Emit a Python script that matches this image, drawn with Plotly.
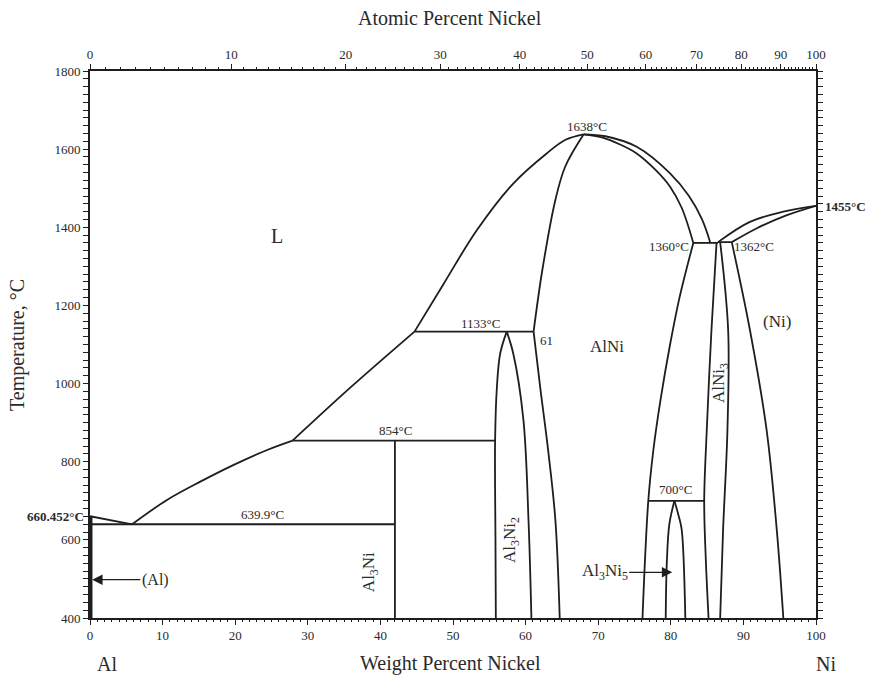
import plotly.graph_objects as go

# ---------------- data (wt% Ni, temperature °C) ----------------
liq_al_wt = [0, 5.8]
liq_al_T = [660.452, 639.9]

liq_hypo_wt = [5.8, 10.6, 15.2, 19.8, 24.4, 27.9]
liq_hypo_T = [639.9, 702, 749, 792, 830, 854]

liq_mid_wt = [27.9, 36, 44.7]
liq_mid_T = [854, 992, 1133]

liq_alni_left_wt = [44.7, 48.7, 53.3, 58.3, 62.9, 65.5, 68.0]
liq_alni_left_T = [1133, 1255, 1393, 1512, 1589, 1624, 1638]

alni_left_high_wt = [61.1, 62.3, 64.1, 65.45, 68.0]
alni_left_high_T = [1133, 1290, 1470, 1555, 1638]

alni_left_low_wt = [61.1, 62.0, 63.15, 64.1, 64.7]
alni_left_low_T = [1133, 992, 822, 651, 400]

al3ni2_left_wt = [57.4, 56.5, 56.05, 55.8, 55.85, 55.9]
al3ni2_left_T = [1133, 1077, 992, 854, 600, 400]

al3ni2_right_wt = [57.4, 58.3, 59.7, 60.4, 60.8]
al3ni2_right_T = [1133, 1077, 907, 651, 400]

al3ni_wt = [42.0, 42.0]
al3ni_T = [400, 854]

al_solvus_wt = [0.12, 0.12]
al_solvus_T = [400, 660.452]

alni_sol_right_wt = [68.0, 70.5, 73, 75.3, 78, 79.9, 81.5, 83.1]
alni_sol_right_T = [1638, 1630, 1612, 1589, 1545, 1504, 1450, 1360]

liq_alni_right_wt = [68.0, 71, 75.3, 79.9, 82.5, 84.3, 85.45]
liq_alni_right_T = [1638, 1633, 1606, 1538, 1480, 1420, 1360]

liq_ni_wt = [86.5, 90.9, 95.5, 100]
liq_ni_T = [1362, 1414, 1440, 1455]

sol_ni_wt = [88.4, 91.8, 96.0, 100]
sol_ni_T = [1362, 1397, 1431, 1455]

alni_right_wt = [83.1, 81.2, 79.9, 78.6, 77.6, 76.9, 76.1]
alni_right_T = [1360, 1220, 1100, 960, 830, 700, 400]

alni3_left_wt = [86.3, 85.6, 84.95, 84.6, 84.8, 85.2]
alni3_left_T = [1360, 1137, 880, 700, 560, 400]

alni3_right_wt = [86.8, 87.9, 87.8, 87.2, 86.8]
alni3_right_T = [1362, 1137, 881, 625, 400]

ni_solvus_wt = [88.4, 90.9, 93.2, 94.6, 95.5]
ni_solvus_T = [1362, 1137, 881, 625, 400]

al3ni5_left_wt = [80.5, 79.8, 79.45, 79.3]
al3ni5_left_T = [700, 640, 541, 400]

al3ni5_right_wt = [80.5, 81.1, 81.5, 82.0]
al3ni5_right_T = [700, 660, 626, 400]

# invariant (horizontal) lines: (wt_start, wt_end, T)
iso_eut640 = (0, 42.0, 639.9)
iso_per854 = (27.9, 55.8, 854)
iso_per1133 = (44.7, 61.1, 1133)
iso_eut1360 = (83.1, 86.5, 1360)
iso_per1362 = (86.5, 88.4, 1362)
iso_pd700 = (76.9, 84.6, 700)

# axis ticks
wt_ticks = [0, 10, 20, 30, 40, 50, 60, 70, 80, 90, 100]
T_ticks = [400, 600, 800, 1000, 1200, 1400, 1600, 1800]
at_ticks = [0, 10, 20, 30, 40, 50, 60, 70, 80, 90, 100]

M_NI, M_AL = 58.6934, 26.9815
X_RANGE = [0, 100]
Y_RANGE = [400, 1800]


def at2wt(a):
    return 100.0 * a * M_NI / (a * M_NI + (100 - a) * M_AL)


LC = "#1e1e1e"
FONT = "Liberation Serif"
TXT = "#2a2a2a"

fig = go.Figure()


def curve(x, y, smooth=True, width=1.8):
    fig.add_trace(go.Scatter(
        x=x, y=y, mode="lines", hoverinfo="skip", showlegend=False,
        line=dict(color=LC, width=width,
                  shape="spline" if smooth else "linear", smoothing=1.0)))


curve(liq_al_wt, liq_al_T, smooth=False)
curve(liq_hypo_wt, liq_hypo_T)
curve(liq_mid_wt, liq_mid_T)
curve(liq_alni_left_wt, liq_alni_left_T)
curve(alni_left_high_wt, alni_left_high_T)
curve(alni_left_low_wt, alni_left_low_T)
curve(al3ni2_left_wt, al3ni2_left_T)
curve(al3ni2_right_wt, al3ni2_right_T)
curve(al3ni_wt, al3ni_T, smooth=False)
curve(al_solvus_wt, al_solvus_T, smooth=False, width=3.2)
curve(alni_sol_right_wt, alni_sol_right_T)
curve(liq_alni_right_wt, liq_alni_right_T)
curve(liq_ni_wt, liq_ni_T)
curve(sol_ni_wt, sol_ni_T)
curve(alni_right_wt, alni_right_T)
curve(alni3_left_wt, alni3_left_T)
curve(alni3_right_wt, alni3_right_T)
curve(ni_solvus_wt, ni_solvus_T)
curve(al3ni5_left_wt, al3ni5_left_T)
curve(al3ni5_right_wt, al3ni5_right_T)

for (a, b, t) in [iso_eut640, iso_per854, iso_per1133, iso_eut1360, iso_per1362, iso_pd700]:
    curve([a, b], [t, t], smooth=False)

# invisible trace so the top (atomic %) axis renders
fig.add_trace(go.Scatter(x=X_RANGE, y=[400, 400], xaxis="x2", mode="markers",
                         marker=dict(opacity=0), hoverinfo="skip", showlegend=False))


def label(x, y, text, size=13, xanchor="center", angle=0, bold=False, paper=False):
    if bold:
        text = "<b>" + text + "</b>"
    if paper:
        # convert data-like values to paper fractions (allowed outside the axis range)
        x = (x - X_RANGE[0]) / (X_RANGE[1] - X_RANGE[0])
        y = (y - Y_RANGE[0]) / (Y_RANGE[1] - Y_RANGE[0])
    fig.add_annotation(x=x, y=y, xref="paper" if paper else "x",
                       yref="paper" if paper else "y", text=text, showarrow=False,
                       xanchor=xanchor, yanchor="middle", textangle=angle,
                       font=dict(family=FONT, size=size, color=TXT))


def arrow_label(text, tx, ty, hx, hy, size=17):
    fig.add_annotation(x=hx, y=hy, ax=tx, ay=ty, xref="x", yref="y", axref="x", ayref="y",
                       text=text, showarrow=True, arrowhead=2, arrowsize=1.6,
                       arrowwidth=1.3, arrowcolor=LC,
                       font=dict(family=FONT, size=size, color=TXT))


label(25.8, 1377, "L", size=20)
label(68.5, 1657, "1638°C", size=13)
label(53.75, 1155, "1133°C", size=13)
label(62.9, 1109, "61", size=13)
label(71.2, 1094, "AlNi", size=17)
label(42.05, 879, "854°C", size=13)
label(23.7, 664, "639.9°C", size=13)
label(-0.6, 661, "660.452°C", size=13, xanchor="right", bold=True, paper=True)
label(101.0, 1453, "1455°C", size=13, xanchor="left", bold=True, paper=True)
label(82.8, 1350, "1360°C", size=13, xanchor="right")
label(88.4, 1350, "1362°C", size=13, xanchor="left")
label(94.6, 1158, "(Ni)", size=17)
label(80.6, 728, "700°C", size=13)
label(86.8, 1002, "AlNi<sub>3</sub>", size=17, angle=-90)
label(58.0, 600, "Al<sub>3</sub>Ni<sub>2</sub>", size=17, angle=-90)
label(38.6, 518, "Al<sub>3</sub>Ni", size=17, angle=-90)
arrow_label("Al<sub>3</sub>Ni<sub>5</sub>", 70.9, 517, 80.2, 517, size=17)
arrow_label("(Al)", 9.0, 498, 0.3, 498, size=16)
label(2.4, 283, "Al", size=20, paper=True)
label(101.4, 283, "Ni", size=20, paper=True)
label(49.6, 283, "Weight Percent Nickel", size=20, paper=True)
label(49.6, 1935, "Atomic Percent Nickel", size=20, paper=True)
label(-9.9, 1099, "Temperature, °C", size=20, angle=-90, paper=True)

tickfont = dict(family=FONT, size=13, color=TXT)
axline = dict(showline=True, linecolor=LC, linewidth=1.6, showgrid=False, zeroline=False)

fig.update_layout(
    width=872, height=680,
    margin=dict(l=90, r=56, t=71, b=62),
    paper_bgcolor="white", plot_bgcolor="white",
    xaxis=dict(range=X_RANGE, tickvals=wt_ticks, ticks="outside", ticklen=5,
               tickcolor=LC, tickfont=tickfont, mirror=True,
               minor=dict(dtick=1, ticks="outside", ticklen=2, tickcolor=LC),
               **axline),
    xaxis2=dict(range=X_RANGE, overlaying="x", side="top", anchor="y",
                tickvals=[at2wt(a) for a in at_ticks], ticktext=[str(a) for a in at_ticks],
                ticks="outside", ticklen=5, tickcolor=LC, tickfont=tickfont,
                minor=dict(tickvals=[at2wt(a) for a in range(0, 101)], ticks="outside",
                           ticklen=2, tickcolor=LC),
                **axline),
    yaxis=dict(range=Y_RANGE, tickvals=T_ticks, ticks="outside", ticklen=5,
               tickcolor=LC, tickfont=tickfont, mirror="allticks",
               minor=dict(dtick=20, ticks="outside", ticklen=2, tickcolor=LC),
               **axline),
)

fig.write_html("out.html")
